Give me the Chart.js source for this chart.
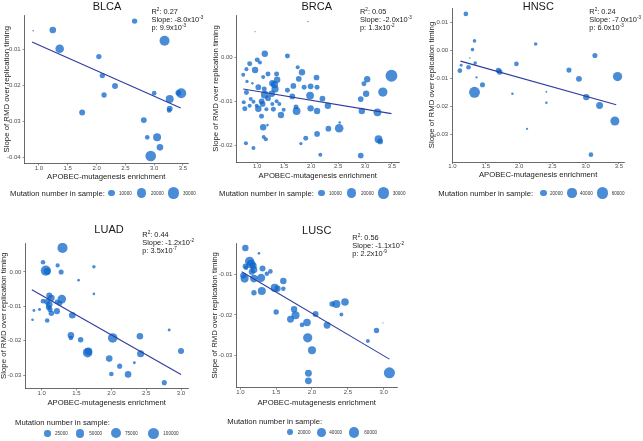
<!DOCTYPE html>
<html>
<head>
<meta charset="utf-8">
<script src="https://cdn.jsdelivr.net/npm/chart.js@4.4.0/dist/chart.umd.min.js"></script>
<style>
  body { margin: 0; width: 643px; height: 441px; background: #fff; position: relative; overflow: hidden;
         font-family: "Liberation Sans", Arial, sans-serif; }
  canvas { position: absolute; }
  .ttl, .st, .lg, .kl { filter: grayscale(100%); }
  .ttl { position: absolute; font-size: 11px; color: #1a1a1a; transform: translate(-50%, -50%); white-space: nowrap; }
  .st { position: absolute; font-size: 7.4px; line-height: 8px; color: #1a1a1a; white-space: nowrap; }
  .st sup { font-size: 4.6px; vertical-align: 2.6px; line-height: 0; }
  .lg { position: absolute; font-size: 7.7px; color: #1a1a1a; white-space: nowrap; transform: translateY(-50%); }
  .key { position: absolute; border-radius: 50%; }
  .kl { position: absolute; font-size: 4.6px; color: #333; white-space: nowrap; transform: translateY(-50%); }
</style>
</head>
<body>
<script>
// --- BLCA ---
const blcaX = [0.90, 1.24, 1.36, 2.66, 3.18, 2.04, 2.10, 2.32, 2.13, 1.75, 3.00, 3.27, 3.42, 3.47, 3.27, 3.26, 2.82, 2.88, 3.05, 3.10, 2.94];
const blcaY = [-0.0048, -0.0046, -0.0098, -0.0021, -0.0076, -0.0120, -0.0173, -0.0202, -0.0227, -0.0276, -0.0222,
               -0.0238, -0.0221, -0.0222, -0.0265, -0.0270, -0.0297, -0.0345, -0.0345, -0.0373, -0.0397];
const blcaN = [600, 10000, 17000, 6700, 23000, 6500, 6500, 8000, 6500, 8000, 5000, 14500, 8000, 23000, 8000, 5000,
               8000, 5000, 14500, 10000, 26000];
const blcaFitX = [0.88, 3.46];
const blcaFitY = [-0.0079, -0.0263];

// --- BRCA ---
const brcaX = [1.94, 0.96, 1.14, 1.56, 1.00, 1.05, 0.86, 0.80, 0.96, 1.75, 1.83, 1.20, 1.36, 0.74, 1.11, 2.10, 3.04, 3.49,
               1.77, 1.37, 0.81, 0.91, 1.28, 1.32, 1.67, 1.99, 2.11, 1.87, 2.98, 1.02, 1.13, 1.33, 1.56, 0.80, 3.02, 3.33,
               1.98, 1.65, 1.14, 1.27, 1.20, 2.21, 2.92, 0.88, 0.93, 0.75, 1.36, 1.08, 1.41, 1.28, 1.10, 0.99, 0.86, 0.77,
               1.02, 1.17, 1.30, 1.49, 1.72, 1.73, 1.99, 2.11, 2.31, 2.94, 3.23, 1.44, 1.08, 1.11, 1.19, 2.32, 2.52, 2.53,
               2.11, 1.90, 1.12, 1.16, 1.81, 0.79, 0.93, 3.25, 3.28, 2.17, 2.92];
const brcaY = [0.0081, 0.0058, 0.0008, 0.0003, -0.0006, -0.0012, -0.0015, -0.0027, -0.0029, -0.0023, -0.0034, -0.0038,
               -0.0038, -0.0040, -0.0045, -0.0046, -0.0050, -0.0042, -0.0049, -0.0051, -0.0055, -0.0059, -0.0059, -0.0062,
               -0.0065, -0.0066, -0.0068, -0.0068, -0.0060, -0.0068, -0.0072, -0.0072, -0.0075, -0.0080, -0.0083, -0.0079,
               -0.0087, -0.0089, -0.0085, -0.0083, -0.0093, -0.0094, -0.0095, -0.0095, -0.0101, -0.0102, -0.0100, -0.0100,
               -0.0106, -0.0106, -0.0106, -0.0110, -0.0110, -0.0117, -0.0117, -0.0118, -0.0118, -0.0119, -0.0113, -0.0122,
               -0.0116, -0.0122, -0.0110, -0.0122, -0.0125, -0.0131, -0.0134, -0.0159, -0.0154, -0.0162, -0.0161, -0.0148,
               -0.0174, -0.0184, -0.0181, -0.0186, -0.0196, -0.0195, -0.0206, -0.0186, -0.0191, -0.0221, -0.0223];
const brcaN = [400, 300, 9400, 5700, 5700, 3700, 5700, 3700, 9400, 3700, 9400, 5700, 5700, 3700, 3700, 7500, 9400, 32000,
               7500, 9400, 2500, 1500, 9400, 12000, 7500, 7500, 5700, 5700, 5700, 7500, 5700, 12000, 5700, 5700, 9400, 20000,
               14000, 7500, 14000, 9400, 7500, 7500, 7500, 3700, 3700, 3700, 3700, 7500, 3700, 3700, 7500, 3700, 3700, 5700,
               9400, 3700, 5700, 3700, 5700, 14000, 9400, 9400, 9400, 9400, 14000, 9400, 5700, 9400, 1500, 7500, 17000, 1500,
               7500, 5700, 3700, 3700, 2500, 3700, 3700, 14000, 7500, 3700, 7500];
const brcaFitX = [0.74, 3.49];
const brcaFitY = [-0.0072, -0.0128];

// --- HNSC ---
const hnscX = [1.20, 1.33, 1.30, 1.26, 1.34, 1.13, 1.11, 1.24, 1.36, 1.45, 1.33, 1.69, 1.71, 1.96, 2.25, 1.90, 2.41, 2.41,
               2.12, 2.75, 2.90, 3.14, 3.48, 3.01, 3.21, 3.44, 3.08];
const hnscY = [0.0130, 0.0034, 0.0003, -0.0027, -0.0045, -0.0053, -0.0072, -0.0060, -0.0096, -0.0122, -0.0149, -0.0071,
               -0.0077, -0.0048, 0.0023, -0.0154, -0.0147, -0.0186, -0.0279, -0.0070, -0.0101, -0.0018, -0.0093, -0.0166,
               -0.0196, -0.0251, -0.0371];
const hnscN = [10000, 6000, 6000, 1200, 6000, 4000, 10000, 10000, 2500, 12000, 55000, 14000, 14000, 10000, 6000, 3000,
               1500, 3000, 2500, 12000, 16000, 12000, 40000, 19000, 22000, 38000, 10000];
const hnscFitX = [1.12, 3.46];
const hnscFitY = [-0.0038, -0.0193];

// --- LUAD ---
const luadX = [1.30, 1.02, 1.23, 1.75, 1.06, 1.08, 1.28, 1.53, 1.75, 1.11, 1.14, 1.29, 1.02, 1.08, 1.22, 1.26, 1.11, 1.10,
               1.12, 0.89, 0.97, 1.14, 1.22, 0.87, 1.08, 1.44, 1.42, 1.42, 1.56, 1.67, 1.66, 2.02, 2.41, 2.83, 2.42, 3.00,
               1.97, 2.12, 2.33, 2.00, 2.24, 2.76];
const luadY = [0.0070, 0.0028, 0.0019, 0.0015, 0.0004, 0.0002, 0.0000, -0.0024, -0.0064, -0.0069, -0.0076, -0.0079,
               -0.0085, -0.0087, -0.0087, -0.0091, -0.0095, -0.0103, -0.0109, -0.0112, -0.0109, -0.0120, -0.0114, -0.0139,
               -0.0141, -0.0126, -0.0184, -0.0192, -0.0197, -0.0231, -0.0235, -0.0192, -0.0187, -0.0169, -0.0238, -0.0230,
               -0.0252, -0.0274, -0.0264, -0.0297, -0.0298, -0.0322];
const luadN = [75000, 8500, 6000, 3000, 75000, 30000, 12000, 800, 800, 20000, 25000, 50000, 8500, 20000, 8500, 12000,
               25000, 15000, 12000, 1500, 1500, 15000, 20000, 800, 8500, 25000, 25000, 8500, 15000, 40000, 65000, 65000,
               25000, 1500, 30000, 20000, 25000, 12000, 1500, 8500, 25000, 12000];
const luadFitX = [0.86, 3.00];
const luadFitY = [-0.0052, -0.0298];

// --- LUSC ---
const luscX = [1.07, 1.26, 1.13, 1.15, 1.07, 1.18, 1.31, 1.08, 1.19, 1.16, 1.42, 1.37, 1.04, 1.06, 1.19, 1.29, 1.60, 1.48,
               1.52, 1.60, 1.30, 1.19, 1.50, 1.75, 1.77, 1.70, 1.86, 1.93, 2.05, 2.28, 2.34, 2.46, 2.41, 2.21, 1.94, 2.00,
               2.78, 2.90, 2.99, 1.95, 1.95, 3.08];
const luscY = [-0.0034, -0.0047, -0.0067, -0.0074, -0.0079, -0.0078, -0.0085, -0.0083, -0.0088, -0.0093, -0.0092, -0.0098,
               -0.0102, -0.0110, -0.0110, -0.0108, -0.0116, -0.0133, -0.0135, -0.0135, -0.0141, -0.0145, -0.0193, -0.0186,
               -0.0201, -0.0211, -0.0225, -0.0219, -0.0198, -0.0173, -0.0173, -0.0168, -0.0199, -0.0226, -0.0257, -0.0288,
               -0.0265, -0.0239, -0.0220, -0.0345, -0.0364, -0.0344];
const luscN = [22000, 4000, 45000, 40000, 15000, 25000, 19000, 11000, 25000, 20000, 11000, 11000, 19000, 34000, 30000,
               36000, 22000, 34000, 20000, 11000, 34000, 15000, 15000, 22000, 34000, 25000, 11000, 30000, 19000, 15000,
               34000, 30000, 8000, 25000, 45000, 34000, 8000, 15000, 600, 25000, 25000, 65000];
const luscFitX = [1.02, 3.08];
const luscFitY = [-0.0093, -0.0310];

// ticks
const xTicksTop = [1.0, 1.5, 2.0, 2.5, 3.0, 3.5];
const xTicksBottom = [1.0, 1.5, 2.0, 2.5, 3.0];
const blcaYTicks = [-0.01, -0.02, -0.03, -0.04];
const brcaYTicks = [0.00, -0.01, -0.02];
const hnscYTicks = [0.01, 0.00, -0.01, -0.02, -0.03];
const luadYTicks = [0.00, -0.01, -0.02, -0.03];
const luscYTicks = [-0.01, -0.02, -0.03];

// legend values
const blcaLegend = [10000, 20000, 30000];
const brcaLegend = [10000, 20000, 30000];
const hnscLegend = [20000, 40000, 60000];
const luadLegend = [25000, 50000, 75000, 100000];
const luscLegend = [20000, 40000, 60000];

const pointColor = 'rgba(14, 102, 200, 0.75)';
const fitColor = '#2f3c9e';

const panels = [
  { name: 'BLCA', xs: blcaX, ys: blcaY, ns: blcaN, fx: blcaFitX, fy: blcaFitY, xt: xTicksTop, yt: blcaYTicks,
    xr: [0.751, 3.587], yr: [-0.04177, -0.0004], box: { l: 25, t: 15, r: 188, b: 163 }, yGap: 18, xTitleY: 177,
    size: n => 0.033 * Math.sqrt(n), title: [107, 6],
    stats: ['R<sup>2</sup>: 0.27', 'Slope: -8.0x10<sup>-3</sup>', 'p: 9.9x10<sup>-3</sup>'], statPos: [151.5, 7.5],
    legend: { vals: blcaLegend, tx: 10, ty: 193, ky: 193, kx: [111.7, 141.7, 173.3], lx: [119, 151, 183] } },
  { name: 'BRCA', xs: brcaX, ys: brcaY, ns: brcaN, fx: brcaFitX, fy: brcaFitY, xt: xTicksTop, yt: brcaYTicks,
    xr: [0.617, 3.63], yr: [-0.02377, 0.00958], box: { l: 236.7, t: 15, r: 399.3, b: 162.3 }, yGap: 21, xTitleY: 176.7,
    size: n => 0.033 * Math.sqrt(n), title: [316.7, 6],
    stats: ['R<sup>2</sup>: 0.05', 'Slope: -2.0x10<sup>-3</sup>', 'p: 1.3x10<sup>-2</sup>'], statPos: [360, 7.5],
    legend: { vals: brcaLegend, tx: 219, ty: 193, ky: 193, kx: [321.7, 351.7, 383.3], lx: [329, 361, 392.7] } },
  { name: 'HNSC', xs: hnscX, ys: hnscY, ns: hnscN, fx: hnscFitX, fy: hnscFitY, xt: xTicksTop, yt: hnscYTicks,
    xr: [0.995, 3.577], yr: [-0.0397, 0.0151], box: { l: 452.3, t: 8.3, r: 624, b: 162.3 }, yGap: 20.6, xTitleY: 175.7,
    size: n => 0.0232 * Math.sqrt(n), title: [538.3, 6.3],
    stats: ['R<sup>2</sup>: 0.24', 'Slope: -7.0x10<sup>-3</sup>', 'p: 6.0x10<sup>-3</sup>'], statPos: [589.3, 7.5],
    legend: { vals: hnscLegend, tx: 438.3, ty: 193, ky: 193, kx: [543.3, 572, 602.7], lx: [550, 580, 611.7] } },
  { name: 'LUAD', xs: luadX, ys: luadY, ns: luadN, fx: luadFitX, fy: luadFitY, xt: xTicksBottom, yt: luadYTicks,
    xr: [0.766, 3.10], yr: [-0.03387, 0.00842], box: { l: 25.7, t: 243.3, r: 188.3, b: 389 }, yGap: 21.7, xTitleY: 404,
    size: n => 0.9 + 0.0152 * Math.sqrt(n), title: [109, 229],
    stats: ['R<sup>2</sup>: 0.44', 'Slope: -1.2x10<sup>-2</sup>', 'p: 3.5x10<sup>-7</sup>'], statPos: [142.3, 231],
    legend: { vals: luadLegend, tx: 15, ty: 421.7, ky: 433.3, kx: [47.3, 80, 116, 153.3], lx: [55, 89.3, 125, 163.3] } },
  { name: 'LUSC', xs: luscX, ys: luscY, ns: luscN, fx: luscFitX, fy: luscFitY, xt: xTicksBottom, yt: luscYTicks,
    xr: [0.944, 3.186], yr: [-0.0381, -0.00215], box: { l: 236.7, t: 243.3, r: 397.7, b: 388.3 }, yGap: 21.7, xTitleY: 404,
    size: n => 0.0218 * Math.sqrt(n), title: [316.7, 230],
    stats: ['R<sup>2</sup>: 0.56', 'Slope: -1.1x10<sup>-2</sup>', 'p: 2.2x10<sup>-9</sup>'], statPos: [352.3, 234.3],
    legend: { vals: luscLegend, tx: 227.3, ty: 420.7, ky: 432.3, kx: [290, 321.7, 354], lx: [297.7, 329.3, 364.3] } }
];

function addDiv(cls, html, x, y) {
  const d = document.createElement('div');
  d.className = cls;
  d.innerHTML = html;
  d.style.left = x + 'px';
  d.style.top = y + 'px';
  document.body.appendChild(d);
  return d;
}

const axisFont = { family: '"Liberation Sans", Arial, sans-serif', size: 7.7 };
const tickFont = { family: '"Liberation Sans", Arial, sans-serif', size: 6 };

panels.forEach(p => {
  const yW = p.yGap + 5.6;
  const xH = p.xTitleY + 4.6 - p.box.b;
  const left = p.box.l - yW, top = p.box.t - 10;
  const width = p.box.r + 10 - left, height = p.box.b + xH - top;

  const canvas = document.createElement('canvas');
  canvas.width = Math.round(width);
  canvas.height = Math.round(height);
  canvas.style.left = left + 'px';
  canvas.style.top = top + 'px';
  document.body.appendChild(canvas);

  const bubbles = p.xs.map((x, i) => ({ x: x, y: p.ys[i], r: p.size(p.ns[i]) }));
  const fit = p.fx.map((x, i) => ({ x: x, y: p.fy[i] }));

  new Chart(canvas.getContext('2d'), {
    type: 'bubble',
    data: {
      datasets: [
        { type: 'line', data: fit, borderColor: fitColor, borderWidth: 1.1, pointRadius: 0, fill: false, order: 0 },
        { data: bubbles, backgroundColor: pointColor, borderWidth: 0, order: 1 }
      ]
    },
    options: {
      responsive: false,
      animation: false,
      events: [],
      layout: { padding: { left: 0, top: 10, right: 10, bottom: 0 } },
      plugins: { legend: { display: false }, tooltip: { enabled: false } },
      scales: {
        x: {
          type: 'linear', min: p.xr[0], max: p.xr[1],
          afterBuildTicks: s => { s.ticks = p.xt.map(v => ({ value: v })); },
          afterFit: s => { s.height = xH; },
          grid: { display: true, drawOnChartArea: false, drawTicks: true, tickLength: 2, color: '#444', lineWidth: 0.6 },
          border: { display: true, color: '#444', width: 0.8 },
          ticks: { font: tickFont, color: '#4d4d4d', padding: -1, maxRotation: 0, autoSkip: false,
                   callback: v => v.toFixed(1) },
          title: { display: true, text: 'APOBEC-mutagenesis enrichment', font: axisFont, color: '#1a1a1a', padding: 0 }
        },
        y: {
          type: 'linear', min: p.yr[0], max: p.yr[1],
          afterBuildTicks: s => { s.ticks = p.yt.map(v => ({ value: v })); },
          afterFit: s => { s.width = yW; },
          grid: { display: true, drawOnChartArea: false, drawTicks: true, tickLength: 2, color: '#444', lineWidth: 0.6 },
          border: { display: true, color: '#444', width: 0.8 },
          ticks: { font: tickFont, color: '#4d4d4d', padding: 2, autoSkip: false,
                   callback: v => v.toFixed(2) },
          title: { display: true, text: 'Slope of RMD over replication timing', font: { ...axisFont, size: 7.8 },
                   color: '#1a1a1a', padding: 1 }
        }
      }
    }
  });

  addDiv('ttl', p.name, p.title[0], p.title[1]);
  addDiv('st', p.stats.join('<br>'), p.statPos[0], p.statPos[1]);

  const lg = p.legend;
  addDiv('lg', 'Mutation number in sample:', lg.tx, lg.ty);
  lg.vals.forEach((v, i) => {
    const r = p.size(v);
    const k = addDiv('key', '', lg.kx[i] - r, lg.ky - r);
    k.style.width = (2 * r) + 'px';
    k.style.height = (2 * r) + 'px';
    k.style.background = pointColor;
    addDiv('kl', String(v), lg.lx[i], lg.ky);
  });
});
</script>
</body>
</html>
